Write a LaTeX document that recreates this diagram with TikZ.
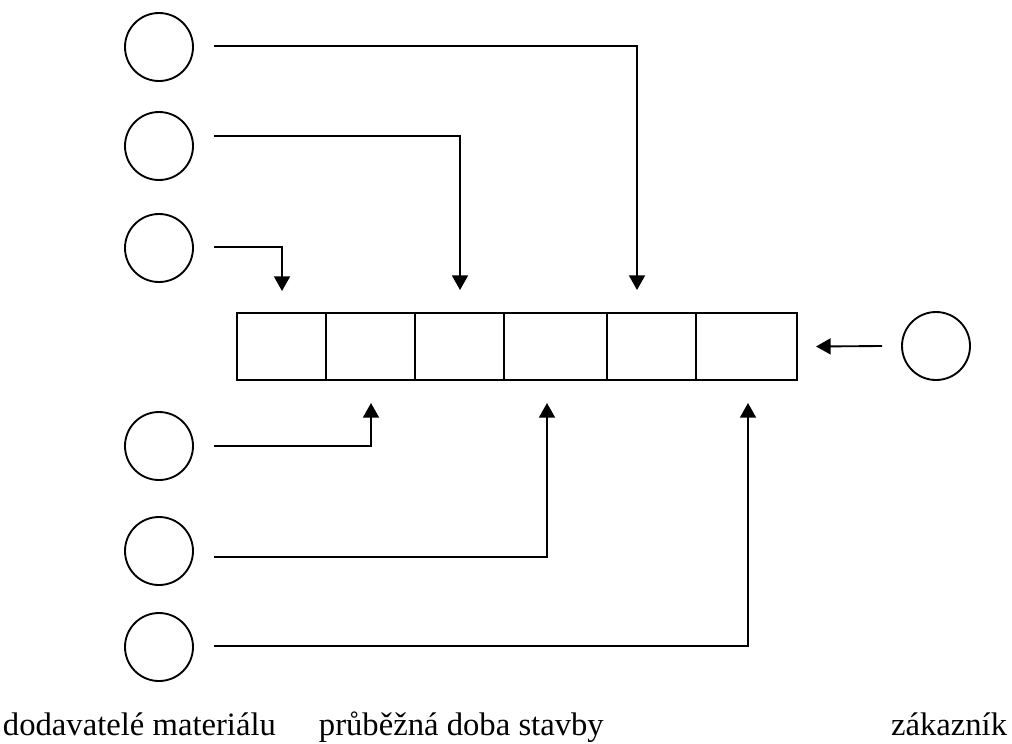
\documentclass[tikz,border=0pt]{standalone}
\usepackage{fontspec}
\setmainfont{Liberation Serif}
\usetikzlibrary{arrows.meta,calc}
\begin{document}
\begin{tikzpicture}[x=0.75pt,y=-0.75pt,line width=1.4pt,
  src/.style={circle,draw,inner sep=0pt,outer sep=0pt,minimum size=51pt},
  cell/.style={rectangle,draw,inner sep=0pt,outer sep=0pt,minimum height=50.25pt,anchor=north west},
  flow/.style={-{Triangle[length=11pt,width=12pt]}},
  lbl/.style={font=\fontsize{24.5}{28}\selectfont,inner sep=0pt}]
\useasboundingbox (0,0) rectangle (1012,743);

% material suppliers
\node[src] (s1) at (159,47)  {};
\node[src] (s2) at (159,146) {};
\node[src] (s3) at (159,248) {};
\node[src] (s4) at (159,446) {};
\node[src] (s5) at (159,551) {};
\node[src] (s6) at (159,647) {};

% customer
\node[src] (cu) at (936,346) {};

% construction time line
\node[cell,minimum width=66.75pt]  (c1) at (237,313) {};
\node[cell,minimum width=66.75pt]  (c2) at (326,313) {};
\node[cell,minimum width=66.75pt]  (c3) at (415,313) {};
\node[cell,minimum width=77.25pt]  (c4) at (504,313) {};
\node[cell,minimum width=66.75pt]  (c5) at (607,313) {};
\node[cell,minimum width=75.75pt]  (c6) at (696,313) {};

% deliveries from above
\draw[flow] ($(s1.east)+(21,-1)$)  -| ($(c5.north west)+(30,-23)$);
\draw[flow] ($(s2.east)+(21,-10)$) -| ($(c3.north)+(0.5,-23)$);
\draw[flow] ($(s3.east)+(21,-1)$)  -| ($(c1.north)+(0.5,-22)$);

% deliveries from below
\draw[flow] ($(s4.east)+(21,0)$) -| ($(c2.south)+(0.5,23)$);
\draw[flow] ($(s5.east)+(21,6)$) -| ($(c4.south west)+(43,23)$);
\draw[flow] ($(s6.east)+(21,-1)$) -| ($(c6.south)+(1.5,23)$);

% customer demand
\draw[flow] ($(cu.west)+(-20,0)$) -- ($(c6.east)+(19,0)$);

% captions
\node[lbl,anchor=base west] (t1) at (2,735)    {dodavatelé materiálu};
\node[lbl,anchor=base west] (t2) at (318,735)  {průběžná doba stavby};
\node[lbl,anchor=base east] (t3) at (1008,735) {zákazník};
\end{tikzpicture}
\end{document}
